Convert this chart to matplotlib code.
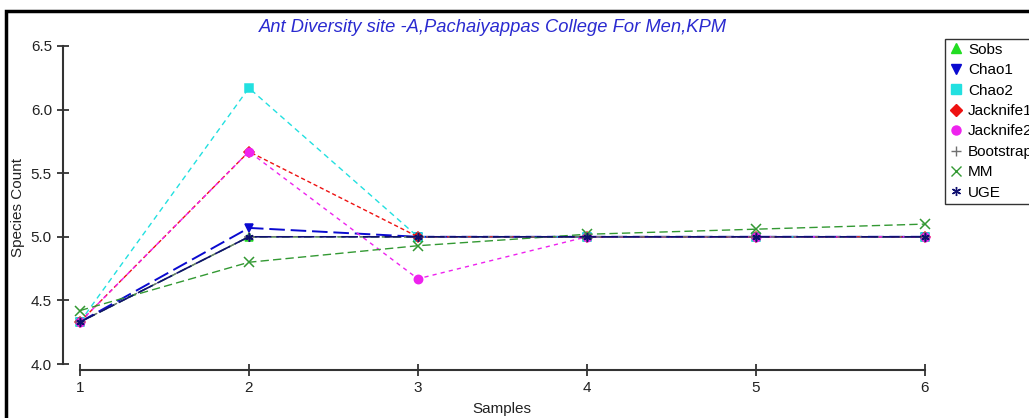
import matplotlib.pyplot as plt
from matplotlib.lines import Line2D
from matplotlib.patches import Rectangle

plt.rcParams['font.family'] = ['Liberation Sans', 'DejaVu Sans']

# Species richness estimators per sample
samples = [1, 2, 3, 4, 5, 6]
sobs = [4.33, 5.00, 5.00, 5.00, 5.00, 5.00]
chao1 = [4.33, 5.07, 5.00, 5.00, 5.00, 5.00]
chao2 = [4.33, 6.17, 5.00, 5.00, 5.00, 5.00]
jack1 = [4.33, 5.67, 5.00, 5.00, 5.00, 5.00]
jack2 = [4.33, 5.67, 4.67, 5.00, 5.00, 5.00]
bootstrap = [4.33, 5.00, 5.00, 5.00, 5.00, 5.00]
mm = [4.42, 4.80, 4.93, 5.02, 5.06, 5.10]
uge = [4.33, 5.00, 5.00, 5.00, 5.00, 5.00]

series = [
    ("Sobs", sobs, "#22dd22", "^", (0, (5, 3)), 1.0),
    ("Chao1", chao1, "#0a0ad0", "v", (0, (8, 3)), 1.4),
    ("Chao2", chao2, "#22e0e0", "s", (0, (4, 3)), 1.0),
    ("Jacknife1", jack1, "#ee1111", "D", (0, (3, 2)), 1.0),
    ("Jacknife2", jack2, "#ee22ee", "o", (0, (3, 3)), 1.0),
    ("Bootstrap", bootstrap, "#707070", "+", (0, (6, 2)), 1.0),
    ("MM", mm, "#339933", "x", (0, (6, 3)), 1.0),
    ("UGE", uge, "#101070", (6, 2, 0), (0, (10, 3)), 1.2),
]

fig = plt.figure(figsize=(10.29, 4.18), dpi=100)
ax = fig.add_axes([63 / 1029, 1 - 370 / 418, (940 - 63) / 1029, (370 - 46) / 418])

for name, vals, col, mk, ls, lw in series:
    ms = 7 if mk in ("+", "x") else 6
    if mk == "D":
        ms = 5.5
    ax.plot(samples, vals, color=col, linestyle=ls, linewidth=lw,
            marker=mk, markersize=ms, markeredgewidth=1.1, clip_on=False)

ax.set_xlim(0.9, 0.9 + (940 - 63) / 169)
ax.set_ylim(3.953, 6.5)
ax.set_xticks(samples)
ax.set_yticks([4.0, 4.5, 5.0, 5.5, 6.0, 6.5])
ax.set_yticklabels(["4.0", "4.5", "5.0", "5.5", "6.0", "6.5"])

for side in ["top", "right"]:
    ax.spines[side].set_visible(False)
ax.spines["left"].set_bounds(4.0, 6.5)
ax.spines["bottom"].set_bounds(1, 6)
for side in ["left", "bottom"]:
    ax.spines[side].set_color("#333333")
    ax.spines[side].set_linewidth(1.5)
ax.tick_params(direction="inout", length=9, width=1.3, color="#333333",
               labelsize=11, labelcolor="#222222")

ax.set_xlabel("Samples", fontsize=11, color="#222222", labelpad=5)
ax.set_ylabel("Species Count", fontsize=11, color="#222222", labelpad=4)
ax.set_title("Ant Diversity site -A,Pachaiyappas College For Men,KPM",
             fontsize=13.2, style="italic", color="#2a2ad0", x=0.49, y=1.0,
             pad=10)

handles = []
for name, vals, col, mk, ls, lw in series:
    handles.append(Line2D([], [], color=col, marker=mk, linestyle="none",
                          markersize=6.5, markeredgewidth=1.0, label=name))
leg = fig.legend(handles=handles, loc="upper left",
                 bbox_to_anchor=(945 / 1029, 1 - 39 / 418),
                 fontsize=11, frameon=True, fancybox=False, borderpad=0.25,
                 handlelength=0.9, handletextpad=0.35, labelspacing=0.42,
                 borderaxespad=0)
leg.get_frame().set_edgecolor("black")
leg.get_frame().set_linewidth(1.0)

# outer border of the chart image
fig.patches.append(Rectangle((6 / 1029, -0.05), 1.2, 1 - 11 / 418 + 0.05,
                             transform=fig.transFigure, fill=False,
                             edgecolor="black", linewidth=2.5))

plt.savefig("out.png", dpi=100)
